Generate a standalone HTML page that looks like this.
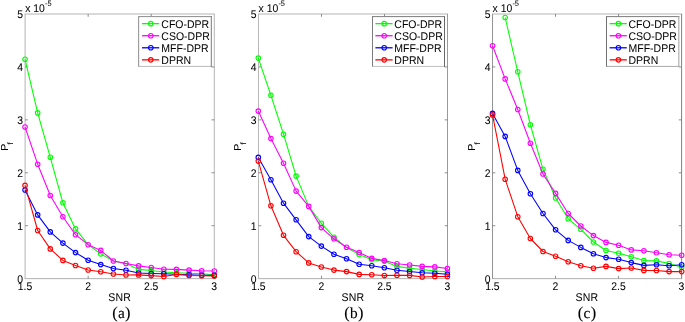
<!DOCTYPE html>
<html><head><meta charset="utf-8"><title>Figure</title>
<style>html,body{margin:0;padding:0;background:#fff}body{width:685px;height:322px;overflow:hidden}</style></head>
<body>
<svg width="685" height="322" viewBox="0 0 685 322" style="display:block;text-rendering:geometricPrecision">
<rect width="685" height="322" fill="#fff"/>
<g>
<path d="M24.60 14.0H214.80" stroke="#b4b4b4" fill="none"/>
<path d="M24.60 278.65H214.80" stroke="#b0b0b0" fill="none"/>
<path d="M25.10 14.0V278.65" stroke="#b4b4b4" fill="none"/>
<path d="M214.30 14.0V278.65" stroke="#b4b4b4" fill="none"/>
<path d="M88.17 278.65v-2.8M88.17 14.0v2.8M151.23 278.65v-2.8M151.23 14.0v2.8M25.10 225.72h2.8M214.30 225.72h-2.8M25.10 172.79h2.8M214.30 172.79h-2.8M25.10 119.86h2.8M214.30 119.86h-2.8M25.10 66.93h2.8M214.30 66.93h-2.8" stroke="#808080" stroke-width="0.9" fill="none"/>
<g font-family="Liberation Sans, Arial, Helvetica, sans-serif" fill="#000" stroke="#000" stroke-width="0.04">
<text transform="translate(23.10 282.85) scale(1 1.065)" font-size="10.4" text-anchor="end">0</text>
<text transform="translate(23.10 229.92) scale(1 1.065)" font-size="10.4" text-anchor="end">1</text>
<text transform="translate(23.10 176.99) scale(1 1.065)" font-size="10.4" text-anchor="end">2</text>
<text transform="translate(23.10 124.06) scale(1 1.065)" font-size="10.4" text-anchor="end">3</text>
<text transform="translate(23.10 71.13) scale(1 1.065)" font-size="10.4" text-anchor="end">4</text>
<text transform="translate(23.10 18.20) scale(1 1.065)" font-size="10.4" text-anchor="end">5</text>
<text transform="translate(25.00 290.10) scale(1 1.065)" font-size="10.4" text-anchor="middle">1.5</text>
<text transform="translate(88.07 290.10) scale(1 1.065)" font-size="10.4" text-anchor="middle">2</text>
<text transform="translate(151.13 290.10) scale(1 1.065)" font-size="10.4" text-anchor="middle">2.5</text>
<text transform="translate(214.20 290.10) scale(1 1.065)" font-size="10.4" text-anchor="middle">3</text>
<text transform="translate(25.20 11.65) scale(1 1.065)" font-size="10.4">x 10</text>
<text transform="translate(45.00 5.70) scale(1 1.065)" font-size="7.4">-5</text>
<text transform="translate(119.60 301.15) scale(1 1.065)" font-size="10.5" text-anchor="middle" letter-spacing="0.2">SNR</text>
<text transform="translate(7.95 150.80) rotate(-90) scale(1.0 0.97)" font-size="10.4">P<tspan font-size="8.3" dx="-0.6" dy="5.2">f</tspan></text>
</g>
<clipPath id="ca"><rect x="21.10" y="14.0" width="197.20" height="268.65"/></clipPath>
<g clip-path="url(#ca)" fill="none">
<polyline points="25.05,59.30 37.67,112.90 50.28,157.30 62.90,202.80 75.52,228.90 88.13,244.70 100.75,253.90 113.37,261.00 125.98,263.60 138.60,269.40 151.22,270.50 163.83,272.00 176.45,272.70 189.07,273.20 201.68,273.80 214.30,274.80" stroke="#00ff00" stroke-width="1.08" stroke-linejoin="round"/>
<g stroke="#00ff00" stroke-width="1.12"><circle cx="25.05" cy="59.30" r="2.25"/><circle cx="37.67" cy="112.90" r="2.25"/><circle cx="50.28" cy="157.30" r="2.25"/><circle cx="62.90" cy="202.80" r="2.25"/><circle cx="75.52" cy="228.90" r="2.25"/><circle cx="100.75" cy="253.90" r="2.25"/><circle cx="138.60" cy="269.40" r="2.25"/><circle cx="151.22" cy="270.50" r="2.25"/><circle cx="163.83" cy="272.00" r="2.25"/><circle cx="176.45" cy="272.70" r="2.25"/><circle cx="189.07" cy="273.20" r="2.25"/><circle cx="201.68" cy="273.80" r="2.25"/><circle cx="214.30" cy="274.80" r="2.25"/></g>
<polyline points="25.05,127.00 37.67,164.20 50.28,195.50 62.90,216.70 75.52,234.70 88.13,244.70 100.75,250.40 113.37,261.00 125.98,263.50 138.60,265.90 151.22,267.50 163.83,269.20 176.45,269.40 189.07,270.10 201.68,270.70 214.30,271.00" stroke="#ff00ff" stroke-width="1.08" stroke-linejoin="round"/>
<g stroke="#ff00ff" stroke-width="1.12"><circle cx="25.05" cy="127.00" r="2.25"/><circle cx="37.67" cy="164.20" r="2.25"/><circle cx="50.28" cy="195.50" r="2.25"/><circle cx="62.90" cy="216.70" r="2.25"/><circle cx="75.52" cy="234.70" r="2.25"/><circle cx="88.13" cy="244.70" r="2.25"/><circle cx="100.75" cy="250.40" r="2.25"/><circle cx="113.37" cy="261.00" r="2.25"/><circle cx="125.98" cy="263.50" r="2.25"/><circle cx="138.60" cy="265.90" r="2.25"/><circle cx="151.22" cy="267.50" r="2.25"/><circle cx="163.83" cy="269.20" r="2.25"/><circle cx="176.45" cy="269.40" r="2.25"/><circle cx="189.07" cy="270.10" r="2.25"/><circle cx="201.68" cy="270.70" r="2.25"/><circle cx="214.30" cy="271.00" r="2.25"/></g>
<polyline points="25.05,190.00 37.67,214.90 50.28,231.90 62.90,243.10 75.52,252.60 88.13,260.20 100.75,264.60 113.37,268.50 125.98,270.30 138.60,273.00 151.22,273.50 163.83,273.80 176.45,274.30 189.07,274.80 201.68,275.20 214.30,275.40" stroke="#0000ff" stroke-width="1.08" stroke-linejoin="round"/>
<g stroke="#0000ff" stroke-width="1.12"><circle cx="25.05" cy="190.00" r="2.25"/><circle cx="37.67" cy="214.90" r="2.25"/><circle cx="50.28" cy="231.90" r="2.25"/><circle cx="62.90" cy="243.10" r="2.25"/><circle cx="75.52" cy="252.60" r="2.25"/><circle cx="88.13" cy="260.20" r="2.25"/><circle cx="100.75" cy="264.60" r="2.25"/><circle cx="113.37" cy="268.50" r="2.25"/><circle cx="125.98" cy="270.30" r="2.25"/><circle cx="138.60" cy="273.00" r="2.25"/><circle cx="151.22" cy="273.50" r="2.25"/><circle cx="163.83" cy="273.80" r="2.25"/><circle cx="189.07" cy="274.80" r="2.25"/><circle cx="201.68" cy="275.20" r="2.25"/><circle cx="214.30" cy="275.40" r="2.25"/></g>
<polyline points="25.05,185.40 37.67,230.50 50.28,248.90 62.90,260.40 75.52,265.50 88.13,270.00 100.75,271.80 113.37,274.00 125.98,275.00 138.60,274.90 151.22,275.60 163.83,276.50 176.45,274.40 189.07,275.50 201.68,275.80 214.30,276.00" stroke="#ff0000" stroke-width="1.08" stroke-linejoin="round"/>
<g stroke="#ff0000" stroke-width="1.12"><circle cx="25.05" cy="185.40" r="2.25"/><circle cx="37.67" cy="230.50" r="2.25"/><circle cx="50.28" cy="248.90" r="2.25"/><circle cx="62.90" cy="260.40" r="2.25"/><circle cx="75.52" cy="265.50" r="2.25"/><circle cx="88.13" cy="270.00" r="2.25"/><circle cx="100.75" cy="271.80" r="2.25"/><circle cx="113.37" cy="274.00" r="2.25"/><circle cx="125.98" cy="275.00" r="2.25"/><circle cx="138.60" cy="274.90" r="2.25"/><circle cx="151.22" cy="275.60" r="2.25"/><circle cx="163.83" cy="276.50" r="2.25"/><circle cx="176.45" cy="274.40" r="2.25"/><circle cx="189.07" cy="275.50" r="2.25"/><circle cx="201.68" cy="275.80" r="2.25"/><circle cx="214.30" cy="276.00" r="2.25"/></g>
</g>
<rect x="138.65" y="16.6" width="72.65" height="49.80" fill="#fff"/>
<path d="M138.15 66.4H211.80" stroke="#b8b8b8" fill="none"/>
<path d="M138.15 16.6H211.80" stroke="#8c8c8c" fill="none"/>
<path d="M138.65 16.6V66.4" stroke="#8c8c8c" fill="none"/>
<path d="M211.30 16.1V66.9" stroke="#787878" fill="none"/>
<g font-family="Liberation Sans, Arial, Helvetica, sans-serif" fill="#000" stroke="#000" stroke-width="0.04">
<path d="M142.00 23.65H159.20" stroke="#00ff00" stroke-width="1.3"/>
<circle cx="150.80" cy="23.65" r="2.25" fill="none" stroke="#00ff00" stroke-width="1.12"/>
<text transform="translate(161.35 27.65) scale(1 1.065)" font-size="10.5">CFO-DPR</text>
<path d="M142.00 35.72H159.20" stroke="#ff00ff" stroke-width="1.3"/>
<circle cx="150.80" cy="35.72" r="2.25" fill="none" stroke="#ff00ff" stroke-width="1.12"/>
<text transform="translate(161.35 39.72) scale(1 1.065)" font-size="10.5">CSO-DPR</text>
<path d="M142.00 47.79H159.20" stroke="#0000ff" stroke-width="1.3"/>
<circle cx="150.80" cy="47.79" r="2.25" fill="none" stroke="#0000ff" stroke-width="1.12"/>
<text transform="translate(161.35 51.79) scale(1 1.065)" font-size="10.5">MFF-DPR</text>
<path d="M142.00 59.86H159.20" stroke="#ff0000" stroke-width="1.3"/>
<circle cx="150.80" cy="59.86" r="2.25" fill="none" stroke="#ff0000" stroke-width="1.12"/>
<text transform="translate(161.35 63.86) scale(1 1.065)" font-size="10.5">DPRN</text>
</g>
<g font-family="Liberation Serif, Times New Roman, Times, serif" fill="#000" stroke="#000" stroke-width="0.12"><text transform="translate(121.50 317.55) scale(1 1)" font-size="15.3" text-anchor="middle" letter-spacing="0.35"><tspan font-size="16.4">(</tspan>a<tspan font-size="16.4">)</tspan></text></g>
</g>
<g>
<path d="M258.00 14.0H448.00" stroke="#b4b4b4" fill="none"/>
<path d="M258.00 278.65H448.00" stroke="#b0b0b0" fill="none"/>
<path d="M258.50 14.0V278.65" stroke="#b8b8b8" fill="none"/>
<path d="M447.50 14.0V278.65" stroke="#9a9a9a" fill="none"/>
<path d="M321.50 278.65v-2.8M321.50 14.0v2.8M384.50 278.65v-2.8M384.50 14.0v2.8M258.50 225.72h2.8M447.50 225.72h-2.8M258.50 172.79h2.8M447.50 172.79h-2.8M258.50 119.86h2.8M447.50 119.86h-2.8M258.50 66.93h2.8M447.50 66.93h-2.8" stroke="#808080" stroke-width="0.9" fill="none"/>
<g font-family="Liberation Sans, Arial, Helvetica, sans-serif" fill="#000" stroke="#000" stroke-width="0.04">
<text transform="translate(256.50 282.85) scale(1 1.065)" font-size="10.4" text-anchor="end">0</text>
<text transform="translate(256.50 229.92) scale(1 1.065)" font-size="10.4" text-anchor="end">1</text>
<text transform="translate(256.50 176.99) scale(1 1.065)" font-size="10.4" text-anchor="end">2</text>
<text transform="translate(256.50 124.06) scale(1 1.065)" font-size="10.4" text-anchor="end">3</text>
<text transform="translate(256.50 71.13) scale(1 1.065)" font-size="10.4" text-anchor="end">4</text>
<text transform="translate(256.50 18.20) scale(1 1.065)" font-size="10.4" text-anchor="end">5</text>
<text transform="translate(258.40 290.10) scale(1 1.065)" font-size="10.4" text-anchor="middle">1.5</text>
<text transform="translate(321.40 290.10) scale(1 1.065)" font-size="10.4" text-anchor="middle">2</text>
<text transform="translate(384.40 290.10) scale(1 1.065)" font-size="10.4" text-anchor="middle">2.5</text>
<text transform="translate(447.40 290.10) scale(1 1.065)" font-size="10.4" text-anchor="middle">3</text>
<text transform="translate(258.60 11.65) scale(1 1.065)" font-size="10.4">x 10</text>
<text transform="translate(278.40 5.70) scale(1 1.065)" font-size="7.4">-5</text>
<text transform="translate(352.90 301.15) scale(1 1.065)" font-size="10.5" text-anchor="middle" letter-spacing="0.2">SNR</text>
<text transform="translate(241.35 150.80) rotate(-90) scale(1.0 0.97)" font-size="10.4">P<tspan font-size="8.3" dx="-0.6" dy="5.2">f</tspan></text>
</g>
<clipPath id="cb"><rect x="254.50" y="14.0" width="197.00" height="268.65"/></clipPath>
<g clip-path="url(#cb)" fill="none">
<polyline points="258.30,58.10 270.91,95.30 283.51,134.20 296.12,176.10 308.73,206.40 321.33,223.30 333.94,237.20 346.55,247.60 359.15,254.50 371.76,259.70 384.37,261.30 396.97,266.40 409.58,268.20 422.19,269.50 434.79,271.00 447.40,271.80" stroke="#00ff00" stroke-width="1.08" stroke-linejoin="round"/>
<g stroke="#00ff00" stroke-width="1.12"><circle cx="258.30" cy="58.10" r="2.25"/><circle cx="270.91" cy="95.30" r="2.25"/><circle cx="283.51" cy="134.20" r="2.25"/><circle cx="296.12" cy="176.10" r="2.25"/><circle cx="321.33" cy="223.30" r="2.25"/><circle cx="333.94" cy="237.20" r="2.25"/><circle cx="359.15" cy="254.50" r="2.25"/><circle cx="371.76" cy="259.70" r="2.25"/><circle cx="384.37" cy="261.30" r="2.25"/><circle cx="396.97" cy="266.40" r="2.25"/><circle cx="409.58" cy="268.20" r="2.25"/><circle cx="422.19" cy="269.50" r="2.25"/><circle cx="434.79" cy="271.00" r="2.25"/><circle cx="447.40" cy="271.80" r="2.25"/></g>
<polyline points="258.30,111.10 270.91,138.60 283.51,163.20 296.12,191.10 308.73,206.40 321.33,227.60 333.94,238.80 346.55,247.30 359.15,252.60 371.76,258.40 384.37,260.60 396.97,263.80 409.58,265.00 422.19,266.40 434.79,266.90 447.40,268.50" stroke="#ff00ff" stroke-width="1.08" stroke-linejoin="round"/>
<g stroke="#ff00ff" stroke-width="1.12"><circle cx="258.30" cy="111.10" r="2.25"/><circle cx="270.91" cy="138.60" r="2.25"/><circle cx="283.51" cy="163.20" r="2.25"/><circle cx="296.12" cy="191.10" r="2.25"/><circle cx="308.73" cy="206.40" r="2.25"/><circle cx="321.33" cy="227.60" r="2.25"/><circle cx="333.94" cy="238.80" r="2.25"/><circle cx="346.55" cy="247.30" r="2.25"/><circle cx="359.15" cy="252.60" r="2.25"/><circle cx="371.76" cy="258.40" r="2.25"/><circle cx="384.37" cy="260.60" r="2.25"/><circle cx="396.97" cy="263.80" r="2.25"/><circle cx="409.58" cy="265.00" r="2.25"/><circle cx="422.19" cy="266.40" r="2.25"/><circle cx="434.79" cy="266.90" r="2.25"/><circle cx="447.40" cy="268.50" r="2.25"/></g>
<polyline points="258.30,157.40 270.91,179.80 283.51,203.20 296.12,219.80 308.73,236.60 321.33,246.10 333.94,254.30 346.55,258.70 359.15,264.20 371.76,265.80 384.37,267.70 396.97,270.30 409.58,271.50 422.19,272.80 434.79,273.20 447.40,274.30" stroke="#0000ff" stroke-width="1.08" stroke-linejoin="round"/>
<g stroke="#0000ff" stroke-width="1.12"><circle cx="258.30" cy="157.40" r="2.25"/><circle cx="270.91" cy="179.80" r="2.25"/><circle cx="283.51" cy="203.20" r="2.25"/><circle cx="296.12" cy="219.80" r="2.25"/><circle cx="308.73" cy="236.60" r="2.25"/><circle cx="321.33" cy="246.10" r="2.25"/><circle cx="333.94" cy="254.30" r="2.25"/><circle cx="346.55" cy="258.70" r="2.25"/><circle cx="359.15" cy="264.20" r="2.25"/><circle cx="371.76" cy="265.80" r="2.25"/><circle cx="384.37" cy="267.70" r="2.25"/><circle cx="396.97" cy="270.30" r="2.25"/><circle cx="409.58" cy="271.50" r="2.25"/><circle cx="422.19" cy="272.80" r="2.25"/><circle cx="434.79" cy="273.20" r="2.25"/><circle cx="447.40" cy="274.30" r="2.25"/></g>
<polyline points="258.30,161.10 270.91,205.80 283.51,235.30 296.12,251.70 308.73,262.90 321.33,267.00 333.94,270.10 346.55,271.60 359.15,274.40 371.76,274.70 384.37,275.50 396.97,275.30 409.58,275.40 422.19,277.00 434.79,276.50 447.40,276.50" stroke="#ff0000" stroke-width="1.08" stroke-linejoin="round"/>
<g stroke="#ff0000" stroke-width="1.12"><circle cx="258.30" cy="161.10" r="2.25"/><circle cx="270.91" cy="205.80" r="2.25"/><circle cx="283.51" cy="235.30" r="2.25"/><circle cx="296.12" cy="251.70" r="2.25"/><circle cx="308.73" cy="262.90" r="2.25"/><circle cx="321.33" cy="267.00" r="2.25"/><circle cx="333.94" cy="270.10" r="2.25"/><circle cx="346.55" cy="271.60" r="2.25"/><circle cx="359.15" cy="274.40" r="2.25"/><circle cx="371.76" cy="274.70" r="2.25"/><circle cx="384.37" cy="275.50" r="2.25"/><circle cx="396.97" cy="275.30" r="2.25"/><circle cx="409.58" cy="275.40" r="2.25"/><circle cx="422.19" cy="277.00" r="2.25"/><circle cx="434.79" cy="276.50" r="2.25"/><circle cx="447.40" cy="276.50" r="2.25"/></g>
</g>
<rect x="372.50" y="16.6" width="72.00" height="49.80" fill="#fff"/>
<path d="M372.00 66.4H445.00" stroke="#c0c0c0" fill="none"/>
<path d="M372.00 16.6H445.00" stroke="#7c7c7c" fill="none"/>
<path d="M372.50 16.6V66.4" stroke="#7c7c7c" fill="none"/>
<path d="M444.50 16.1V66.9" stroke="#686868" fill="none"/>
<g font-family="Liberation Sans, Arial, Helvetica, sans-serif" fill="#000" stroke="#000" stroke-width="0.04">
<path d="M375.40 23.65H392.60" stroke="#00ff00" stroke-width="1.3"/>
<circle cx="384.20" cy="23.65" r="2.25" fill="none" stroke="#00ff00" stroke-width="1.12"/>
<text transform="translate(394.30 27.65) scale(1 1.065)" font-size="10.5">CFO-DPR</text>
<path d="M375.40 35.72H392.60" stroke="#ff00ff" stroke-width="1.3"/>
<circle cx="384.20" cy="35.72" r="2.25" fill="none" stroke="#ff00ff" stroke-width="1.12"/>
<text transform="translate(394.30 39.72) scale(1 1.065)" font-size="10.5">CSO-DPR</text>
<path d="M375.40 47.79H392.60" stroke="#0000ff" stroke-width="1.3"/>
<circle cx="384.20" cy="47.79" r="2.25" fill="none" stroke="#0000ff" stroke-width="1.12"/>
<text transform="translate(394.30 51.79) scale(1 1.065)" font-size="10.5">MFF-DPR</text>
<path d="M375.40 59.86H392.60" stroke="#ff0000" stroke-width="1.3"/>
<circle cx="384.20" cy="59.86" r="2.25" fill="none" stroke="#ff0000" stroke-width="1.12"/>
<text transform="translate(394.30 63.86) scale(1 1.065)" font-size="10.5">DPRN</text>
</g>
<g font-family="Liberation Serif, Times New Roman, Times, serif" fill="#000" stroke="#000" stroke-width="0.12"><text transform="translate(354.00 317.55) scale(1 1)" font-size="15.3" text-anchor="middle" letter-spacing="0.35"><tspan font-size="16.4">(</tspan>b<tspan font-size="16.4">)</tspan></text></g>
</g>
<g>
<path d="M492.00 14.0H682.10" stroke="#b4b4b4" fill="none"/>
<path d="M492.00 278.65H682.10" stroke="#b0b0b0" fill="none"/>
<path d="M492.50 14.0V278.65" stroke="#949494" fill="none"/>
<path d="M681.60 14.0V278.65" stroke="#808080" fill="none"/>
<path d="M555.53 278.65v-2.8M555.53 14.0v2.8M618.57 278.65v-2.8M618.57 14.0v2.8M492.50 225.72h2.8M681.60 225.72h-2.8M492.50 172.79h2.8M681.60 172.79h-2.8M492.50 119.86h2.8M681.60 119.86h-2.8M492.50 66.93h2.8M681.60 66.93h-2.8" stroke="#808080" stroke-width="0.9" fill="none"/>
<g font-family="Liberation Sans, Arial, Helvetica, sans-serif" fill="#000" stroke="#000" stroke-width="0.04">
<text transform="translate(490.60 282.85) scale(1 1.065)" font-size="10.4" text-anchor="end">0</text>
<text transform="translate(490.60 229.92) scale(1 1.065)" font-size="10.4" text-anchor="end">1</text>
<text transform="translate(490.60 176.99) scale(1 1.065)" font-size="10.4" text-anchor="end">2</text>
<text transform="translate(490.60 124.06) scale(1 1.065)" font-size="10.4" text-anchor="end">3</text>
<text transform="translate(490.60 71.13) scale(1 1.065)" font-size="10.4" text-anchor="end">4</text>
<text transform="translate(490.60 18.20) scale(1 1.065)" font-size="10.4" text-anchor="end">5</text>
<text transform="translate(492.40 290.10) scale(1 1.065)" font-size="10.4" text-anchor="middle">1.5</text>
<text transform="translate(555.43 290.10) scale(1 1.065)" font-size="10.4" text-anchor="middle">2</text>
<text transform="translate(618.47 290.10) scale(1 1.065)" font-size="10.4" text-anchor="middle">2.5</text>
<text transform="translate(681.50 290.10) scale(1 1.065)" font-size="10.4" text-anchor="middle">3</text>
<text transform="translate(492.60 11.65) scale(1 1.065)" font-size="10.4">x 10</text>
<text transform="translate(512.40 5.70) scale(1 1.065)" font-size="7.4">-5</text>
<text transform="translate(586.95 301.15) scale(1 1.065)" font-size="10.5" text-anchor="middle" letter-spacing="0.2">SNR</text>
<text transform="translate(475.35 150.80) rotate(-90) scale(1.0 0.97)" font-size="10.4">P<tspan font-size="8.3" dx="-0.6" dy="5.2">f</tspan></text>
</g>
<clipPath id="cc"><rect x="488.50" y="14.0" width="197.10" height="268.65"/></clipPath>
<g clip-path="url(#cc)" fill="none">
<polyline points="505.16,17.50 517.77,71.80 530.38,124.80 542.99,169.30 555.60,198.00 568.21,218.80 580.82,229.30 593.43,242.00 606.04,250.50 618.65,253.20 631.26,256.70 643.87,260.60 656.48,260.90 669.09,263.50 681.70,267.20" stroke="#00ff00" stroke-width="1.08" stroke-linejoin="round"/>
<g stroke="#00ff00" stroke-width="1.12"><circle cx="505.16" cy="17.50" r="2.25"/><circle cx="517.77" cy="71.80" r="2.25"/><circle cx="530.38" cy="124.80" r="2.25"/><circle cx="542.99" cy="169.30" r="2.25"/><circle cx="555.60" cy="198.00" r="2.25"/><circle cx="568.21" cy="218.80" r="2.25"/><circle cx="580.82" cy="229.30" r="2.25"/><circle cx="593.43" cy="242.00" r="2.25"/><circle cx="606.04" cy="250.50" r="2.25"/><circle cx="618.65" cy="253.20" r="2.25"/><circle cx="631.26" cy="256.70" r="2.25"/><circle cx="643.87" cy="260.60" r="2.25"/><circle cx="656.48" cy="260.90" r="2.25"/><circle cx="669.09" cy="263.50" r="2.25"/><circle cx="681.70" cy="267.20" r="2.25"/></g>
<polyline points="492.55,45.70 505.16,78.90 517.77,109.50 530.38,143.20 542.99,174.00 555.60,193.40 568.21,213.50 580.82,226.00 593.43,235.60 606.04,242.40 618.65,245.30 631.26,249.90 643.87,250.80 656.48,252.70 669.09,254.80 681.70,255.30" stroke="#ff00ff" stroke-width="1.08" stroke-linejoin="round"/>
<g stroke="#ff00ff" stroke-width="1.12"><circle cx="492.55" cy="45.70" r="2.25"/><circle cx="505.16" cy="78.90" r="2.25"/><circle cx="517.77" cy="109.50" r="2.25"/><circle cx="530.38" cy="143.20" r="2.25"/><circle cx="542.99" cy="174.00" r="2.25"/><circle cx="555.60" cy="193.40" r="2.25"/><circle cx="568.21" cy="213.50" r="2.25"/><circle cx="580.82" cy="226.00" r="2.25"/><circle cx="593.43" cy="235.60" r="2.25"/><circle cx="606.04" cy="242.40" r="2.25"/><circle cx="618.65" cy="245.30" r="2.25"/><circle cx="631.26" cy="249.90" r="2.25"/><circle cx="643.87" cy="250.80" r="2.25"/><circle cx="656.48" cy="252.70" r="2.25"/><circle cx="669.09" cy="254.80" r="2.25"/><circle cx="681.70" cy="255.30" r="2.25"/></g>
<polyline points="492.55,113.40 505.16,136.40 517.77,170.40 530.38,193.70 542.99,213.50 555.60,229.80 568.21,240.40 580.82,247.40 593.43,253.80 606.04,257.60 618.65,259.30 631.26,262.60 643.87,265.40 656.48,264.70 669.09,265.80 681.70,264.70" stroke="#0000ff" stroke-width="1.08" stroke-linejoin="round"/>
<g stroke="#0000ff" stroke-width="1.12"><circle cx="492.55" cy="113.40" r="2.25"/><circle cx="505.16" cy="136.40" r="2.25"/><circle cx="517.77" cy="170.40" r="2.25"/><circle cx="530.38" cy="193.70" r="2.25"/><circle cx="542.99" cy="213.50" r="2.25"/><circle cx="555.60" cy="229.80" r="2.25"/><circle cx="568.21" cy="240.40" r="2.25"/><circle cx="580.82" cy="247.40" r="2.25"/><circle cx="593.43" cy="253.80" r="2.25"/><circle cx="606.04" cy="257.60" r="2.25"/><circle cx="618.65" cy="259.30" r="2.25"/><circle cx="631.26" cy="262.60" r="2.25"/><circle cx="643.87" cy="265.40" r="2.25"/><circle cx="656.48" cy="264.70" r="2.25"/><circle cx="669.09" cy="265.80" r="2.25"/><circle cx="681.70" cy="264.70" r="2.25"/></g>
<polyline points="492.55,114.90 505.16,179.20 517.77,216.70 530.38,238.50 542.99,251.50 555.60,256.30 568.21,261.70 580.82,265.70 593.43,268.30 606.04,266.40 618.65,268.60 631.26,268.00 643.87,270.40 656.48,270.50 669.09,271.60 681.70,271.60" stroke="#ff0000" stroke-width="1.08" stroke-linejoin="round"/>
<g stroke="#ff0000" stroke-width="1.12"><circle cx="492.55" cy="114.90" r="2.25"/><circle cx="505.16" cy="179.20" r="2.25"/><circle cx="517.77" cy="216.70" r="2.25"/><circle cx="530.38" cy="238.50" r="2.25"/><circle cx="542.99" cy="251.50" r="2.25"/><circle cx="555.60" cy="256.30" r="2.25"/><circle cx="568.21" cy="261.70" r="2.25"/><circle cx="580.82" cy="265.70" r="2.25"/><circle cx="593.43" cy="268.30" r="2.25"/><circle cx="606.04" cy="266.40" r="2.25"/><circle cx="618.65" cy="268.60" r="2.25"/><circle cx="631.26" cy="268.00" r="2.25"/><circle cx="643.87" cy="270.40" r="2.25"/><circle cx="656.48" cy="270.50" r="2.25"/><circle cx="669.09" cy="271.60" r="2.25"/><circle cx="681.70" cy="271.60" r="2.25"/></g>
</g>
<rect x="606.50" y="16.6" width="72.35" height="49.80" fill="#fff"/>
<path d="M606.00 66.4H679.35" stroke="#a8a8a8" fill="none"/>
<path d="M606.00 16.6H679.35" stroke="#7c7c7c" fill="none"/>
<path d="M606.50 16.6V66.4" stroke="#707070" fill="none"/>
<path d="M678.85 16.1V66.9" stroke="#a0a0a0" fill="none"/>
<g font-family="Liberation Sans, Arial, Helvetica, sans-serif" fill="#000" stroke="#000" stroke-width="0.04">
<path d="M609.60 23.65H626.80" stroke="#00ff00" stroke-width="1.3"/>
<circle cx="618.40" cy="23.65" r="2.25" fill="none" stroke="#00ff00" stroke-width="1.12"/>
<text transform="translate(628.50 27.65) scale(1 1.065)" font-size="10.5">CFO-DPR</text>
<path d="M609.60 35.72H626.80" stroke="#ff00ff" stroke-width="1.3"/>
<circle cx="618.40" cy="35.72" r="2.25" fill="none" stroke="#ff00ff" stroke-width="1.12"/>
<text transform="translate(628.50 39.72) scale(1 1.065)" font-size="10.5">CSO-DPR</text>
<path d="M609.60 47.79H626.80" stroke="#0000ff" stroke-width="1.3"/>
<circle cx="618.40" cy="47.79" r="2.25" fill="none" stroke="#0000ff" stroke-width="1.12"/>
<text transform="translate(628.50 51.79) scale(1 1.065)" font-size="10.5">MFF-DPR</text>
<path d="M609.60 59.86H626.80" stroke="#ff0000" stroke-width="1.3"/>
<circle cx="618.40" cy="59.86" r="2.25" fill="none" stroke="#ff0000" stroke-width="1.12"/>
<text transform="translate(628.50 63.86) scale(1 1.065)" font-size="10.5">DPRN</text>
</g>
<g font-family="Liberation Serif, Times New Roman, Times, serif" fill="#000" stroke="#000" stroke-width="0.12"><text transform="translate(587.10 317.55) scale(1 1)" font-size="15.3" text-anchor="middle" letter-spacing="0.35"><tspan font-size="16.4">(</tspan>c<tspan font-size="16.4">)</tspan></text></g>
</g>
</svg>
</body></html>
